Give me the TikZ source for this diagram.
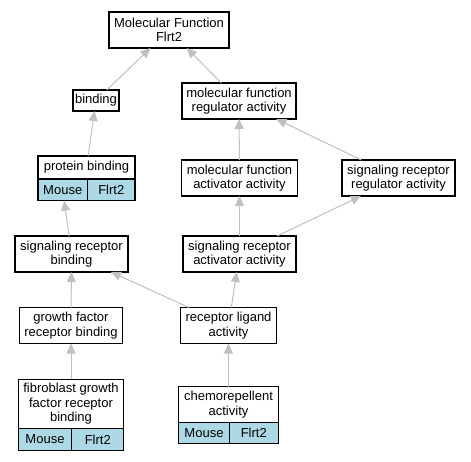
\documentclass[tikz,border=0pt]{standalone}
\usepackage{fontspec}
\setmainfont{Liberation Sans}
\usepackage{xcolor}
\usepackage{tikz}
\usetikzlibrary{arrows.meta, positioning}
\definecolor{edgegray}{RGB}{192,192,192}
\definecolor{cellblue}{RGB}{173,216,230}

\begin{document}
\begin{tikzpicture}[x=1pt,y=-1pt,
                    main node/.style={rectangle,draw,line width=1.2pt,fill=white,align=center,
                                      inner sep=1pt,outer sep=0pt,font=\fontsize{13}{14.5}\selectfont},
                    cell node/.style={main node,fill=cellblue,minimum height=21.5pt},
                    go edge/.style={draw=edgegray,line width=1pt,-{Triangle[length=10pt,width=9pt,fill=edgegray]}}]

\useasboundingbox (0,0) rectangle (471,461);

%DRAWING Terms

  \node[main node,minimum width=120pt,minimum height=36pt] (MolFunc) at (169,30) {Molecular Function\\Flrt2};
  \node[main node,minimum width=46pt,minimum height=21pt] (Binding) at (96,100.5) {binding};
  \node[main node,minimum width=114pt,minimum height=36pt] (MolFuncReg) at (239,101) {molecular function\\regulator activity};

  \node[main node,minimum width=97pt,minimum height=23pt] (ProtBinding) at (86.5,167.5) {protein binding};
  \node[cell node,minimum width=49.5pt,anchor=north west] (ProtBindingMouse) at (ProtBinding.south west) {Mouse};
  \node[cell node,minimum width=47.5pt,anchor=north east] (ProtBindingGene) at (ProtBinding.south east) {Flrt2};

  \node[main node,minimum width=116pt,minimum height=36pt] (MolFuncAct) at (239.5,178) {molecular function\\activator activity};
  \node[main node,minimum width=113pt,minimum height=36pt] (SigRecReg) at (398.5,178) {signaling receptor\\regulator activity};

  \node[main node,minimum width=113pt,minimum height=36pt] (SigRecBinding) at (71.5,254) {signaling receptor\\binding};
  \node[main node,minimum width=113pt,minimum height=36pt] (SigRecAct) at (239.5,254) {signaling receptor\\activator activity};

  \node[main node,minimum width=103pt,minimum height=36pt] (GrowthFactor) at (71,325.5) {growth factor\\receptor binding};
  \node[main node,minimum width=96pt,minimum height=36pt] (RecLigand) at (228.5,325.5) {receptor ligand\\activity};

  \node[main node,minimum width=105.5pt,minimum height=49.5pt] (Fibroblast) at (71,404) {fibroblast growth\\factor receptor\\binding};
  \node[cell node,minimum width=53.5pt,anchor=north west] (FibroblastMouse) at (Fibroblast.south west) {Mouse};
  \node[cell node,minimum width=52pt,anchor=north east] (FibroblastGene) at (Fibroblast.south east) {Flrt2};

  \node[main node,minimum width=99.5pt,minimum height=35.5pt] (Chemorepellent) at (228.5,404.5) {chemorepellent\\activity};
  \node[cell node,minimum width=50.5pt,anchor=north west] (ChemorepellentMouse) at (Chemorepellent.south west) {Mouse};
  \node[cell node,minimum width=49pt,anchor=north east] (ChemorepellentGene) at (Chemorepellent.south east) {Flrt2};

%DRAWING is_a edges

  \draw[go edge] (Binding) -- (MolFunc);
  \draw[go edge] (MolFuncReg) -- (MolFunc);
  \draw[go edge] (ProtBinding) -- (Binding);
  \draw[go edge] (MolFuncAct) -- (MolFuncReg);
  \draw[go edge] (SigRecReg) -- (MolFuncReg);
  \draw[go edge] (SigRecBinding) -- (ProtBindingMouse);
  \draw[go edge] (SigRecAct) -- (MolFuncAct);
  \draw[go edge] (SigRecAct) -- (SigRecReg);
  \draw[go edge] (GrowthFactor) -- (SigRecBinding);
  \draw[go edge] (RecLigand) -- (SigRecBinding);
  \draw[go edge] (RecLigand) -- (SigRecAct);
  \draw[go edge] (Fibroblast) -- (GrowthFactor);
  \draw[go edge] (Chemorepellent) -- (RecLigand);

\end{tikzpicture}
\end{document}
